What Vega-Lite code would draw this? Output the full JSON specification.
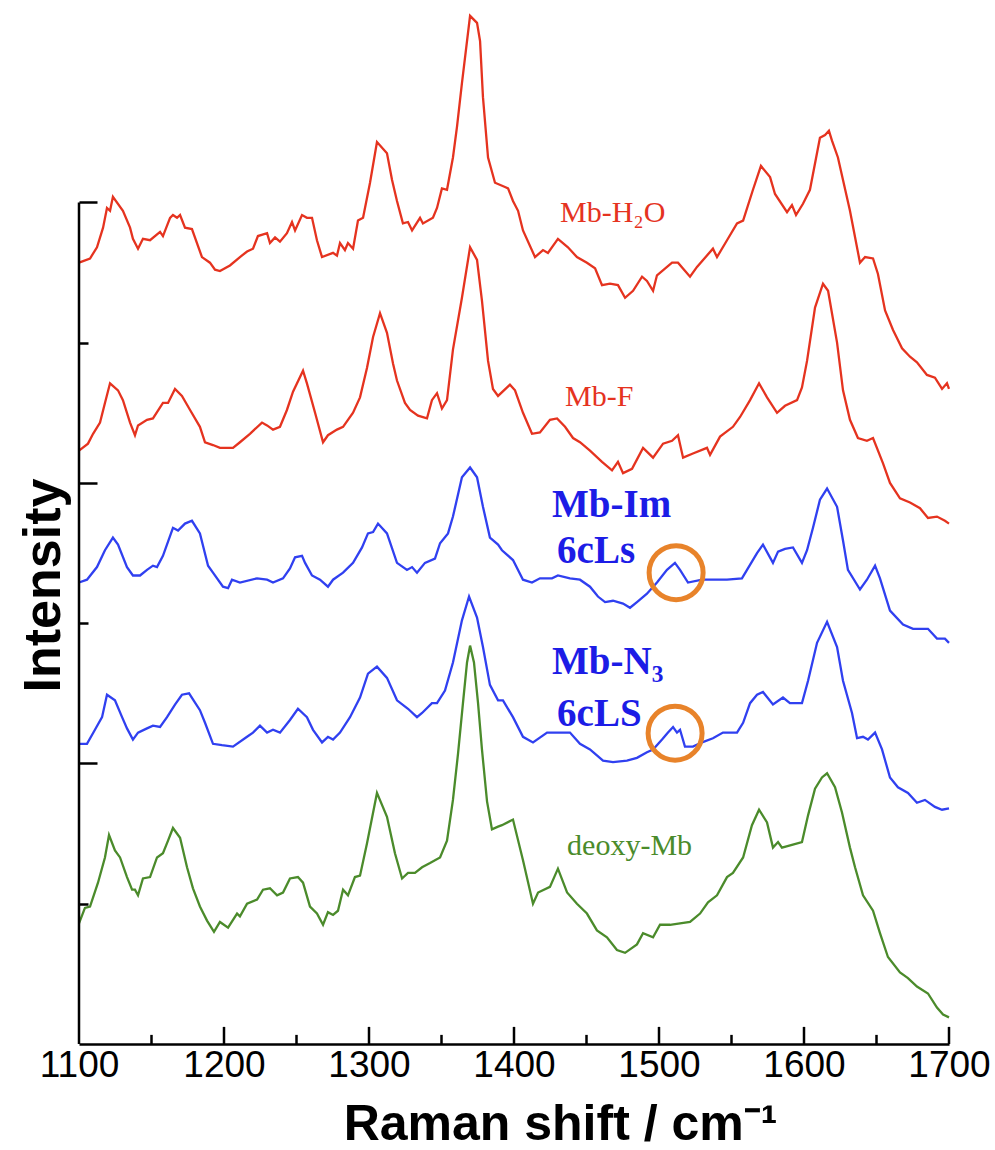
{
"$schema": "https://vega.github.io/schema/vega-lite/v6.json",
"width": 870, "height": 1038,
"autosize": {"type": "none"},
"padding": {"left": 79, "top": 6, "right": 46, "bottom": 106},
"background": "white",
"config": {"view": {"stroke": null}},
"datasets": {
"spectra": [
{"s":"Mb-H2O","wn":1100,"i":5.57},{"s":"Mb-H2O","wn":1107.6,"i":5.60},{"s":"Mb-H2O","wn":1112.4,"i":5.68},{"s":"Mb-H2O","wn":1116.6,"i":5.82},{"s":"Mb-H2O","wn":1119.3,"i":5.96},{"s":"Mb-H2O","wn":1121.4,"i":5.94},{"s":"Mb-H2O","wn":1123.4,"i":6.04},{"s":"Mb-H2O","wn":1130.3,"i":5.94},{"s":"Mb-H2O","wn":1135.2,"i":5.82},{"s":"Mb-H2O","wn":1137.2,"i":5.74},{"s":"Mb-H2O","wn":1140.7,"i":5.67},{"s":"Mb-H2O","wn":1144.1,"i":5.74},{"s":"Mb-H2O","wn":1149,"i":5.73},{"s":"Mb-H2O","wn":1155.9,"i":5.79},{"s":"Mb-H2O","wn":1157.9,"i":5.76},{"s":"Mb-H2O","wn":1162.8,"i":5.89},{"s":"Mb-H2O","wn":1164.8,"i":5.91},{"s":"Mb-H2O","wn":1167.6,"i":5.89},{"s":"Mb-H2O","wn":1169.7,"i":5.91},{"s":"Mb-H2O","wn":1173.1,"i":5.82},{"s":"Mb-H2O","wn":1177.9,"i":5.81},{"s":"Mb-H2O","wn":1184.8,"i":5.61},{"s":"Mb-H2O","wn":1190.3,"i":5.57},{"s":"Mb-H2O","wn":1193.8,"i":5.52},{"s":"Mb-H2O","wn":1197.2,"i":5.51},{"s":"Mb-H2O","wn":1204.1,"i":5.55},{"s":"Mb-H2O","wn":1211,"i":5.61},{"s":"Mb-H2O","wn":1215.9,"i":5.65},{"s":"Mb-H2O","wn":1220,"i":5.67},{"s":"Mb-H2O","wn":1223.4,"i":5.76},{"s":"Mb-H2O","wn":1229.7,"i":5.78},{"s":"Mb-H2O","wn":1231.7,"i":5.71},{"s":"Mb-H2O","wn":1235.2,"i":5.75},{"s":"Mb-H2O","wn":1238.6,"i":5.72},{"s":"Mb-H2O","wn":1243.4,"i":5.78},{"s":"Mb-H2O","wn":1246.9,"i":5.86},{"s":"Mb-H2O","wn":1249,"i":5.80},{"s":"Mb-H2O","wn":1253.8,"i":5.91},{"s":"Mb-H2O","wn":1257.2,"i":5.89},{"s":"Mb-H2O","wn":1260.7,"i":5.89},{"s":"Mb-H2O","wn":1264.1,"i":5.73},{"s":"Mb-H2O","wn":1267.6,"i":5.61},{"s":"Mb-H2O","wn":1275.2,"i":5.64},{"s":"Mb-H2O","wn":1277.9,"i":5.62},{"s":"Mb-H2O","wn":1280,"i":5.71},{"s":"Mb-H2O","wn":1283.4,"i":5.66},{"s":"Mb-H2O","wn":1285.5,"i":5.71},{"s":"Mb-H2O","wn":1289,"i":5.67},{"s":"Mb-H2O","wn":1292.4,"i":5.87},{"s":"Mb-H2O","wn":1295.9,"i":5.89},{"s":"Mb-H2O","wn":1300.7,"i":6.14},{"s":"Mb-H2O","wn":1305.5,"i":6.43},{"s":"Mb-H2O","wn":1312.4,"i":6.35},{"s":"Mb-H2O","wn":1315.9,"i":6.16},{"s":"Mb-H2O","wn":1319.3,"i":6.01},{"s":"Mb-H2O","wn":1323.4,"i":5.85},{"s":"Mb-H2O","wn":1326.9,"i":5.86},{"s":"Mb-H2O","wn":1329.7,"i":5.80},{"s":"Mb-H2O","wn":1335.2,"i":5.89},{"s":"Mb-H2O","wn":1337.2,"i":5.85},{"s":"Mb-H2O","wn":1344.1,"i":5.89},{"s":"Mb-H2O","wn":1346.9,"i":5.96},{"s":"Mb-H2O","wn":1350.3,"i":6.10},{"s":"Mb-H2O","wn":1353.8,"i":6.09},{"s":"Mb-H2O","wn":1357.9,"i":6.32},{"s":"Mb-H2O","wn":1360.7,"i":6.54},{"s":"Mb-H2O","wn":1364.1,"i":6.85},{"s":"Mb-H2O","wn":1369.7,"i":7.33},{"s":"Mb-H2O","wn":1374.5,"i":7.28},{"s":"Mb-H2O","wn":1376.6,"i":7.15},{"s":"Mb-H2O","wn":1378.6,"i":6.75},{"s":"Mb-H2O","wn":1382.1,"i":6.32},{"s":"Mb-H2O","wn":1386.9,"i":6.14},{"s":"Mb-H2O","wn":1393.8,"i":6.11},{"s":"Mb-H2O","wn":1395.9,"i":6.10},{"s":"Mb-H2O","wn":1399.3,"i":6.01},{"s":"Mb-H2O","wn":1402.8,"i":5.94},{"s":"Mb-H2O","wn":1406.2,"i":5.80},{"s":"Mb-H2O","wn":1414.5,"i":5.61},{"s":"Mb-H2O","wn":1420,"i":5.66},{"s":"Mb-H2O","wn":1423.4,"i":5.64},{"s":"Mb-H2O","wn":1430.3,"i":5.74},{"s":"Mb-H2O","wn":1437.2,"i":5.68},{"s":"Mb-H2O","wn":1443.4,"i":5.61},{"s":"Mb-H2O","wn":1450.3,"i":5.57},{"s":"Mb-H2O","wn":1455.9,"i":5.53},{"s":"Mb-H2O","wn":1460.7,"i":5.41},{"s":"Mb-H2O","wn":1466.2,"i":5.42},{"s":"Mb-H2O","wn":1471.7,"i":5.41},{"s":"Mb-H2O","wn":1476.6,"i":5.32},{"s":"Mb-H2O","wn":1482.1,"i":5.37},{"s":"Mb-H2O","wn":1488.3,"i":5.47},{"s":"Mb-H2O","wn":1491.7,"i":5.44},{"s":"Mb-H2O","wn":1495.9,"i":5.37},{"s":"Mb-H2O","wn":1498.6,"i":5.48},{"s":"Mb-H2O","wn":1509,"i":5.57},{"s":"Mb-H2O","wn":1513.1,"i":5.57},{"s":"Mb-H2O","wn":1521.4,"i":5.47},{"s":"Mb-H2O","wn":1526.2,"i":5.54},{"s":"Mb-H2O","wn":1537.2,"i":5.67},{"s":"Mb-H2O","wn":1540,"i":5.61},{"s":"Mb-H2O","wn":1546.9,"i":5.73},{"s":"Mb-H2O","wn":1553.8,"i":5.85},{"s":"Mb-H2O","wn":1558,"i":5.87},{"s":"Mb-H2O","wn":1564.8,"i":6.09},{"s":"Mb-H2O","wn":1570.3,"i":6.26},{"s":"Mb-H2O","wn":1576.6,"i":6.18},{"s":"Mb-H2O","wn":1580,"i":6.06},{"s":"Mb-H2O","wn":1588.3,"i":5.93},{"s":"Mb-H2O","wn":1591.7,"i":5.98},{"s":"Mb-H2O","wn":1594.5,"i":5.91},{"s":"Mb-H2O","wn":1599.3,"i":5.99},{"s":"Mb-H2O","wn":1604.1,"i":6.09},{"s":"Mb-H2O","wn":1611,"i":6.46},{"s":"Mb-H2O","wn":1614.5,"i":6.48},{"s":"Mb-H2O","wn":1617.2,"i":6.51},{"s":"Mb-H2O","wn":1619.3,"i":6.44},{"s":"Mb-H2O","wn":1623.4,"i":6.32},{"s":"Mb-H2O","wn":1631.7,"i":5.94},{"s":"Mb-H2O","wn":1638.6,"i":5.57},{"s":"Mb-H2O","wn":1642.1,"i":5.61},{"s":"Mb-H2O","wn":1647.6,"i":5.60},{"s":"Mb-H2O","wn":1651,"i":5.49},{"s":"Mb-H2O","wn":1655.9,"i":5.23},{"s":"Mb-H2O","wn":1661.4,"i":5.09},{"s":"Mb-H2O","wn":1667.6,"i":4.96},{"s":"Mb-H2O","wn":1673.1,"i":4.90},{"s":"Mb-H2O","wn":1677.9,"i":4.86},{"s":"Mb-H2O","wn":1684.8,"i":4.77},{"s":"Mb-H2O","wn":1690.3,"i":4.75},{"s":"Mb-H2O","wn":1695.2,"i":4.67},{"s":"Mb-H2O","wn":1698.6,"i":4.71},{"s":"Mb-H2O","wn":1700,"i":4.67},
{"s":"Mb-F","wn":1100,"i":4.23},{"s":"Mb-F","wn":1106.2,"i":4.28},{"s":"Mb-F","wn":1109.7,"i":4.35},{"s":"Mb-F","wn":1114.5,"i":4.43},{"s":"Mb-F","wn":1117.9,"i":4.57},{"s":"Mb-F","wn":1121.4,"i":4.71},{"s":"Mb-F","wn":1126.9,"i":4.66},{"s":"Mb-F","wn":1130.3,"i":4.59},{"s":"Mb-F","wn":1135.2,"i":4.43},{"s":"Mb-F","wn":1138.6,"i":4.34},{"s":"Mb-F","wn":1140.7,"i":4.41},{"s":"Mb-F","wn":1146.9,"i":4.45},{"s":"Mb-F","wn":1151,"i":4.46},{"s":"Mb-F","wn":1157.9,"i":4.57},{"s":"Mb-F","wn":1161.4,"i":4.57},{"s":"Mb-F","wn":1166.2,"i":4.67},{"s":"Mb-F","wn":1171,"i":4.62},{"s":"Mb-F","wn":1176.6,"i":4.52},{"s":"Mb-F","wn":1183.4,"i":4.40},{"s":"Mb-F","wn":1186.9,"i":4.29},{"s":"Mb-F","wn":1192.4,"i":4.27},{"s":"Mb-F","wn":1197.2,"i":4.25},{"s":"Mb-F","wn":1206.2,"i":4.25},{"s":"Mb-F","wn":1211,"i":4.29},{"s":"Mb-F","wn":1217.9,"i":4.35},{"s":"Mb-F","wn":1226.2,"i":4.43},{"s":"Mb-F","wn":1229.7,"i":4.41},{"s":"Mb-F","wn":1233.8,"i":4.38},{"s":"Mb-F","wn":1238.6,"i":4.40},{"s":"Mb-F","wn":1243.4,"i":4.52},{"s":"Mb-F","wn":1247.6,"i":4.65},{"s":"Mb-F","wn":1254.5,"i":4.80},{"s":"Mb-F","wn":1257.2,"i":4.71},{"s":"Mb-F","wn":1262.8,"i":4.50},{"s":"Mb-F","wn":1268.3,"i":4.29},{"s":"Mb-F","wn":1271.7,"i":4.34},{"s":"Mb-F","wn":1277.9,"i":4.38},{"s":"Mb-F","wn":1282.1,"i":4.40},{"s":"Mb-F","wn":1289,"i":4.50},{"s":"Mb-F","wn":1293.8,"i":4.61},{"s":"Mb-F","wn":1298.6,"i":4.82},{"s":"Mb-F","wn":1302.8,"i":5.04},{"s":"Mb-F","wn":1307.6,"i":5.21},{"s":"Mb-F","wn":1312.4,"i":5.07},{"s":"Mb-F","wn":1316.6,"i":4.85},{"s":"Mb-F","wn":1319.3,"i":4.73},{"s":"Mb-F","wn":1324.8,"i":4.57},{"s":"Mb-F","wn":1328.3,"i":4.52},{"s":"Mb-F","wn":1333.8,"i":4.48},{"s":"Mb-F","wn":1340,"i":4.46},{"s":"Mb-F","wn":1343.4,"i":4.59},{"s":"Mb-F","wn":1346.9,"i":4.64},{"s":"Mb-F","wn":1350.3,"i":4.53},{"s":"Mb-F","wn":1353.8,"i":4.59},{"s":"Mb-F","wn":1357.9,"i":4.95},{"s":"Mb-F","wn":1364.1,"i":5.32},{"s":"Mb-F","wn":1369.7,"i":5.68},{"s":"Mb-F","wn":1374.5,"i":5.59},{"s":"Mb-F","wn":1377.9,"i":5.30},{"s":"Mb-F","wn":1382.1,"i":4.87},{"s":"Mb-F","wn":1385.5,"i":4.67},{"s":"Mb-F","wn":1389,"i":4.62},{"s":"Mb-F","wn":1397.2,"i":4.70},{"s":"Mb-F","wn":1400.7,"i":4.66},{"s":"Mb-F","wn":1406.2,"i":4.50},{"s":"Mb-F","wn":1412.4,"i":4.35},{"s":"Mb-F","wn":1417.9,"i":4.36},{"s":"Mb-F","wn":1424.8,"i":4.45},{"s":"Mb-F","wn":1429.7,"i":4.46},{"s":"Mb-F","wn":1435.2,"i":4.40},{"s":"Mb-F","wn":1440.7,"i":4.32},{"s":"Mb-F","wn":1445.5,"i":4.29},{"s":"Mb-F","wn":1452.4,"i":4.23},{"s":"Mb-F","wn":1460.7,"i":4.15},{"s":"Mb-F","wn":1467.6,"i":4.09},{"s":"Mb-F","wn":1471.7,"i":4.15},{"s":"Mb-F","wn":1475.2,"i":4.07},{"s":"Mb-F","wn":1481.4,"i":4.10},{"s":"Mb-F","wn":1489,"i":4.25},{"s":"Mb-F","wn":1495.9,"i":4.18},{"s":"Mb-F","wn":1502.8,"i":4.28},{"s":"Mb-F","wn":1509,"i":4.30},{"s":"Mb-F","wn":1513.1,"i":4.34},{"s":"Mb-F","wn":1516.6,"i":4.18},{"s":"Mb-F","wn":1523.4,"i":4.21},{"s":"Mb-F","wn":1533.1,"i":4.25},{"s":"Mb-F","wn":1535.2,"i":4.20},{"s":"Mb-F","wn":1542.1,"i":4.33},{"s":"Mb-F","wn":1551,"i":4.40},{"s":"Mb-F","wn":1555.9,"i":4.47},{"s":"Mb-F","wn":1562.8,"i":4.59},{"s":"Mb-F","wn":1569,"i":4.71},{"s":"Mb-F","wn":1574.5,"i":4.61},{"s":"Mb-F","wn":1581.4,"i":4.50},{"s":"Mb-F","wn":1586.9,"i":4.55},{"s":"Mb-F","wn":1595.2,"i":4.59},{"s":"Mb-F","wn":1598.6,"i":4.68},{"s":"Mb-F","wn":1602.1,"i":4.87},{"s":"Mb-F","wn":1607.6,"i":5.25},{"s":"Mb-F","wn":1613.1,"i":5.42},{"s":"Mb-F","wn":1616.6,"i":5.37},{"s":"Mb-F","wn":1622.8,"i":5.00},{"s":"Mb-F","wn":1626.9,"i":4.66},{"s":"Mb-F","wn":1631.7,"i":4.45},{"s":"Mb-F","wn":1637.2,"i":4.32},{"s":"Mb-F","wn":1643.4,"i":4.30},{"s":"Mb-F","wn":1647.6,"i":4.32},{"s":"Mb-F","wn":1654.5,"i":4.14},{"s":"Mb-F","wn":1659.3,"i":4.00},{"s":"Mb-F","wn":1666.2,"i":3.89},{"s":"Mb-F","wn":1673.1,"i":3.86},{"s":"Mb-F","wn":1680,"i":3.82},{"s":"Mb-F","wn":1685.5,"i":3.75},{"s":"Mb-F","wn":1691.7,"i":3.76},{"s":"Mb-F","wn":1697.2,"i":3.73},{"s":"Mb-F","wn":1700,"i":3.71},
{"s":"Mb-Im","wn":1100,"i":3.29},{"s":"Mb-Im","wn":1105.5,"i":3.31},{"s":"Mb-Im","wn":1112.4,"i":3.40},{"s":"Mb-Im","wn":1117.9,"i":3.52},{"s":"Mb-Im","wn":1123.4,"i":3.61},{"s":"Mb-Im","wn":1126.9,"i":3.56},{"s":"Mb-Im","wn":1133.1,"i":3.40},{"s":"Mb-Im","wn":1137.2,"i":3.34},{"s":"Mb-Im","wn":1142.1,"i":3.34},{"s":"Mb-Im","wn":1146.9,"i":3.38},{"s":"Mb-Im","wn":1151,"i":3.41},{"s":"Mb-Im","wn":1153.8,"i":3.40},{"s":"Mb-Im","wn":1157.9,"i":3.48},{"s":"Mb-Im","wn":1164.8,"i":3.68},{"s":"Mb-Im","wn":1168.3,"i":3.66},{"s":"Mb-Im","wn":1173.1,"i":3.71},{"s":"Mb-Im","wn":1177.9,"i":3.73},{"s":"Mb-Im","wn":1183.4,"i":3.64},{"s":"Mb-Im","wn":1189,"i":3.41},{"s":"Mb-Im","wn":1192.4,"i":3.36},{"s":"Mb-Im","wn":1199.3,"i":3.26},{"s":"Mb-Im","wn":1202.8,"i":3.25},{"s":"Mb-Im","wn":1205.5,"i":3.31},{"s":"Mb-Im","wn":1211,"i":3.29},{"s":"Mb-Im","wn":1222.8,"i":3.32},{"s":"Mb-Im","wn":1229.7,"i":3.31},{"s":"Mb-Im","wn":1233.8,"i":3.29},{"s":"Mb-Im","wn":1240.7,"i":3.32},{"s":"Mb-Im","wn":1245.5,"i":3.39},{"s":"Mb-Im","wn":1249,"i":3.47},{"s":"Mb-Im","wn":1253.8,"i":3.48},{"s":"Mb-Im","wn":1255.9,"i":3.43},{"s":"Mb-Im","wn":1260.7,"i":3.34},{"s":"Mb-Im","wn":1266.2,"i":3.31},{"s":"Mb-Im","wn":1271.7,"i":3.26},{"s":"Mb-Im","wn":1275.2,"i":3.31},{"s":"Mb-Im","wn":1282.1,"i":3.36},{"s":"Mb-Im","wn":1289,"i":3.43},{"s":"Mb-Im","wn":1295.2,"i":3.54},{"s":"Mb-Im","wn":1299.3,"i":3.64},{"s":"Mb-Im","wn":1302.8,"i":3.65},{"s":"Mb-Im","wn":1306.2,"i":3.71},{"s":"Mb-Im","wn":1312.4,"i":3.64},{"s":"Mb-Im","wn":1319.3,"i":3.43},{"s":"Mb-Im","wn":1326.2,"i":3.38},{"s":"Mb-Im","wn":1329.7,"i":3.40},{"s":"Mb-Im","wn":1333.1,"i":3.36},{"s":"Mb-Im","wn":1338.6,"i":3.43},{"s":"Mb-Im","wn":1345.5,"i":3.46},{"s":"Mb-Im","wn":1349,"i":3.57},{"s":"Mb-Im","wn":1354.5,"i":3.64},{"s":"Mb-Im","wn":1357.9,"i":3.76},{"s":"Mb-Im","wn":1364.1,"i":4.04},{"s":"Mb-Im","wn":1369.7,"i":4.11},{"s":"Mb-Im","wn":1374.5,"i":4.04},{"s":"Mb-Im","wn":1378.6,"i":3.83},{"s":"Mb-Im","wn":1383.4,"i":3.61},{"s":"Mb-Im","wn":1389,"i":3.56},{"s":"Mb-Im","wn":1391.7,"i":3.52},{"s":"Mb-Im","wn":1399.3,"i":3.45},{"s":"Mb-Im","wn":1406.2,"i":3.31},{"s":"Mb-Im","wn":1412.4,"i":3.29},{"s":"Mb-Im","wn":1417.9,"i":3.32},{"s":"Mb-Im","wn":1426.2,"i":3.32},{"s":"Mb-Im","wn":1430.3,"i":3.34},{"s":"Mb-Im","wn":1438.6,"i":3.32},{"s":"Mb-Im","wn":1445.5,"i":3.31},{"s":"Mb-Im","wn":1452.4,"i":3.26},{"s":"Mb-Im","wn":1457.9,"i":3.19},{"s":"Mb-Im","wn":1462.8,"i":3.15},{"s":"Mb-Im","wn":1468.3,"i":3.16},{"s":"Mb-Im","wn":1475.2,"i":3.14},{"s":"Mb-Im","wn":1480,"i":3.11},{"s":"Mb-Im","wn":1484.8,"i":3.15},{"s":"Mb-Im","wn":1491.7,"i":3.21},{"s":"Mb-Im","wn":1498.6,"i":3.29},{"s":"Mb-Im","wn":1505.5,"i":3.38},{"s":"Mb-Im","wn":1511,"i":3.43},{"s":"Mb-Im","wn":1514.5,"i":3.38},{"s":"Mb-Im","wn":1520,"i":3.29},{"s":"Mb-Im","wn":1529.7,"i":3.31},{"s":"Mb-Im","wn":1537.2,"i":3.31},{"s":"Mb-Im","wn":1546.9,"i":3.31},{"s":"Mb-Im","wn":1557.2,"i":3.32},{"s":"Mb-Im","wn":1560.7,"i":3.38},{"s":"Mb-Im","wn":1567.6,"i":3.50},{"s":"Mb-Im","wn":1571.7,"i":3.56},{"s":"Mb-Im","wn":1578.6,"i":3.43},{"s":"Mb-Im","wn":1582.1,"i":3.51},{"s":"Mb-Im","wn":1586.9,"i":3.53},{"s":"Mb-Im","wn":1592.4,"i":3.54},{"s":"Mb-Im","wn":1598.6,"i":3.43},{"s":"Mb-Im","wn":1602.1,"i":3.52},{"s":"Mb-Im","wn":1606.2,"i":3.68},{"s":"Mb-Im","wn":1611,"i":3.88},{"s":"Mb-Im","wn":1615.9,"i":3.96},{"s":"Mb-Im","wn":1622.8,"i":3.83},{"s":"Mb-Im","wn":1626.9,"i":3.59},{"s":"Mb-Im","wn":1630.3,"i":3.38},{"s":"Mb-Im","wn":1638.6,"i":3.24},{"s":"Mb-Im","wn":1643.4,"i":3.31},{"s":"Mb-Im","wn":1649,"i":3.41},{"s":"Mb-Im","wn":1652.4,"i":3.32},{"s":"Mb-Im","wn":1659.3,"i":3.09},{"s":"Mb-Im","wn":1668.3,"i":2.99},{"s":"Mb-Im","wn":1675.2,"i":2.96},{"s":"Mb-Im","wn":1685.5,"i":2.96},{"s":"Mb-Im","wn":1691.7,"i":2.89},{"s":"Mb-Im","wn":1697.2,"i":2.89},{"s":"Mb-Im","wn":1700,"i":2.86},
{"s":"Mb-N3","wn":1100,"i":2.14},{"s":"Mb-N3","wn":1105.5,"i":2.14},{"s":"Mb-N3","wn":1111,"i":2.24},{"s":"Mb-N3","wn":1115.9,"i":2.33},{"s":"Mb-N3","wn":1119.3,"i":2.49},{"s":"Mb-N3","wn":1124.8,"i":2.45},{"s":"Mb-N3","wn":1129.7,"i":2.33},{"s":"Mb-N3","wn":1133.1,"i":2.25},{"s":"Mb-N3","wn":1137.2,"i":2.17},{"s":"Mb-N3","wn":1140.7,"i":2.22},{"s":"Mb-N3","wn":1146.9,"i":2.25},{"s":"Mb-N3","wn":1151,"i":2.27},{"s":"Mb-N3","wn":1155.9,"i":2.26},{"s":"Mb-N3","wn":1160.7,"i":2.33},{"s":"Mb-N3","wn":1166.2,"i":2.42},{"s":"Mb-N3","wn":1171,"i":2.49},{"s":"Mb-N3","wn":1175.9,"i":2.50},{"s":"Mb-N3","wn":1183.4,"i":2.38},{"s":"Mb-N3","wn":1186.9,"i":2.29},{"s":"Mb-N3","wn":1192.4,"i":2.14},{"s":"Mb-N3","wn":1198.6,"i":2.13},{"s":"Mb-N3","wn":1206.2,"i":2.12},{"s":"Mb-N3","wn":1215.9,"i":2.19},{"s":"Mb-N3","wn":1220,"i":2.22},{"s":"Mb-N3","wn":1224.8,"i":2.27},{"s":"Mb-N3","wn":1229.7,"i":2.22},{"s":"Mb-N3","wn":1233.8,"i":2.24},{"s":"Mb-N3","wn":1238.6,"i":2.22},{"s":"Mb-N3","wn":1245.5,"i":2.31},{"s":"Mb-N3","wn":1251,"i":2.39},{"s":"Mb-N3","wn":1257.2,"i":2.33},{"s":"Mb-N3","wn":1261.4,"i":2.24},{"s":"Mb-N3","wn":1267.6,"i":2.15},{"s":"Mb-N3","wn":1271.7,"i":2.19},{"s":"Mb-N3","wn":1275.2,"i":2.17},{"s":"Mb-N3","wn":1280,"i":2.22},{"s":"Mb-N3","wn":1286.9,"i":2.33},{"s":"Mb-N3","wn":1293.8,"i":2.47},{"s":"Mb-N3","wn":1299.3,"i":2.64},{"s":"Mb-N3","wn":1305.5,"i":2.69},{"s":"Mb-N3","wn":1312.4,"i":2.61},{"s":"Mb-N3","wn":1319.3,"i":2.45},{"s":"Mb-N3","wn":1326.9,"i":2.39},{"s":"Mb-N3","wn":1333.1,"i":2.33},{"s":"Mb-N3","wn":1336.6,"i":2.36},{"s":"Mb-N3","wn":1343.4,"i":2.43},{"s":"Mb-N3","wn":1346.9,"i":2.43},{"s":"Mb-N3","wn":1352.4,"i":2.52},{"s":"Mb-N3","wn":1357.9,"i":2.72},{"s":"Mb-N3","wn":1364.1,"i":3.02},{"s":"Mb-N3","wn":1369,"i":3.19},{"s":"Mb-N3","wn":1374.5,"i":3.04},{"s":"Mb-N3","wn":1378.6,"i":2.83},{"s":"Mb-N3","wn":1383.4,"i":2.56},{"s":"Mb-N3","wn":1389,"i":2.45},{"s":"Mb-N3","wn":1392.4,"i":2.45},{"s":"Mb-N3","wn":1399.3,"i":2.33},{"s":"Mb-N3","wn":1406.2,"i":2.19},{"s":"Mb-N3","wn":1413.1,"i":2.15},{"s":"Mb-N3","wn":1422.8,"i":2.22},{"s":"Mb-N3","wn":1426.2,"i":2.22},{"s":"Mb-N3","wn":1431.7,"i":2.22},{"s":"Mb-N3","wn":1438.6,"i":2.22},{"s":"Mb-N3","wn":1445.5,"i":2.14},{"s":"Mb-N3","wn":1452.4,"i":2.10},{"s":"Mb-N3","wn":1461.4,"i":2.02},{"s":"Mb-N3","wn":1468.3,"i":2.01},{"s":"Mb-N3","wn":1477.9,"i":2.02},{"s":"Mb-N3","wn":1484.8,"i":2.04},{"s":"Mb-N3","wn":1491.7,"i":2.08},{"s":"Mb-N3","wn":1495.9,"i":2.10},{"s":"Mb-N3","wn":1502.1,"i":2.17},{"s":"Mb-N3","wn":1506.2,"i":2.22},{"s":"Mb-N3","wn":1509.7,"i":2.26},{"s":"Mb-N3","wn":1512.4,"i":2.22},{"s":"Mb-N3","wn":1514.5,"i":2.24},{"s":"Mb-N3","wn":1517.9,"i":2.12},{"s":"Mb-N3","wn":1523.4,"i":2.12},{"s":"Mb-N3","wn":1529.7,"i":2.15},{"s":"Mb-N3","wn":1537.2,"i":2.18},{"s":"Mb-N3","wn":1544.1,"i":2.22},{"s":"Mb-N3","wn":1553.8,"i":2.22},{"s":"Mb-N3","wn":1558,"i":2.29},{"s":"Mb-N3","wn":1562.8,"i":2.43},{"s":"Mb-N3","wn":1567.6,"i":2.49},{"s":"Mb-N3","wn":1571.7,"i":2.51},{"s":"Mb-N3","wn":1578.6,"i":2.42},{"s":"Mb-N3","wn":1585.5,"i":2.47},{"s":"Mb-N3","wn":1590.3,"i":2.43},{"s":"Mb-N3","wn":1598.6,"i":2.43},{"s":"Mb-N3","wn":1602.8,"i":2.59},{"s":"Mb-N3","wn":1609,"i":2.86},{"s":"Mb-N3","wn":1615.9,"i":3.01},{"s":"Mb-N3","wn":1622.8,"i":2.83},{"s":"Mb-N3","wn":1626.9,"i":2.59},{"s":"Mb-N3","wn":1633.1,"i":2.36},{"s":"Mb-N3","wn":1636.6,"i":2.18},{"s":"Mb-N3","wn":1640.7,"i":2.19},{"s":"Mb-N3","wn":1644.1,"i":2.17},{"s":"Mb-N3","wn":1649,"i":2.22},{"s":"Mb-N3","wn":1653.8,"i":2.10},{"s":"Mb-N3","wn":1659.3,"i":1.90},{"s":"Mb-N3","wn":1664.8,"i":1.83},{"s":"Mb-N3","wn":1671.7,"i":1.79},{"s":"Mb-N3","wn":1677.9,"i":1.72},{"s":"Mb-N3","wn":1683.4,"i":1.74},{"s":"Mb-N3","wn":1690.3,"i":1.69},{"s":"Mb-N3","wn":1695.2,"i":1.67},{"s":"Mb-N3","wn":1700,"i":1.68},
{"s":"deoxy-Mb","wn":1100,"i":0.86},{"s":"deoxy-Mb","wn":1104.1,"i":0.97},{"s":"deoxy-Mb","wn":1107.6,"i":0.98},{"s":"deoxy-Mb","wn":1113.1,"i":1.15},{"s":"deoxy-Mb","wn":1117.9,"i":1.33},{"s":"deoxy-Mb","wn":1120.7,"i":1.49},{"s":"deoxy-Mb","wn":1124.8,"i":1.38},{"s":"deoxy-Mb","wn":1128.3,"i":1.33},{"s":"deoxy-Mb","wn":1133.1,"i":1.19},{"s":"deoxy-Mb","wn":1136.6,"i":1.10},{"s":"deoxy-Mb","wn":1138.6,"i":1.10},{"s":"deoxy-Mb","wn":1140.7,"i":1.06},{"s":"deoxy-Mb","wn":1144.1,"i":1.18},{"s":"deoxy-Mb","wn":1149,"i":1.19},{"s":"deoxy-Mb","wn":1153.8,"i":1.33},{"s":"deoxy-Mb","wn":1157.9,"i":1.36},{"s":"deoxy-Mb","wn":1161.4,"i":1.45},{"s":"deoxy-Mb","wn":1164.8,"i":1.54},{"s":"deoxy-Mb","wn":1169.7,"i":1.47},{"s":"deoxy-Mb","wn":1174.5,"i":1.26},{"s":"deoxy-Mb","wn":1178.6,"i":1.11},{"s":"deoxy-Mb","wn":1183.4,"i":0.98},{"s":"deoxy-Mb","wn":1188.3,"i":0.88},{"s":"deoxy-Mb","wn":1193.1,"i":0.80},{"s":"deoxy-Mb","wn":1197.2,"i":0.87},{"s":"deoxy-Mb","wn":1202.8,"i":0.83},{"s":"deoxy-Mb","wn":1209,"i":0.93},{"s":"deoxy-Mb","wn":1211,"i":0.91},{"s":"deoxy-Mb","wn":1215.9,"i":1.00},{"s":"deoxy-Mb","wn":1222.8,"i":1.03},{"s":"deoxy-Mb","wn":1226.9,"i":1.10},{"s":"deoxy-Mb","wn":1231.7,"i":1.11},{"s":"deoxy-Mb","wn":1236.6,"i":1.06},{"s":"deoxy-Mb","wn":1240.7,"i":1.08},{"s":"deoxy-Mb","wn":1245.5,"i":1.18},{"s":"deoxy-Mb","wn":1251,"i":1.19},{"s":"deoxy-Mb","wn":1254.5,"i":1.15},{"s":"deoxy-Mb","wn":1259.3,"i":0.98},{"s":"deoxy-Mb","wn":1264.1,"i":0.93},{"s":"deoxy-Mb","wn":1268.3,"i":0.85},{"s":"deoxy-Mb","wn":1271.7,"i":0.94},{"s":"deoxy-Mb","wn":1275.2,"i":0.92},{"s":"deoxy-Mb","wn":1278.6,"i":0.95},{"s":"deoxy-Mb","wn":1282.1,"i":1.10},{"s":"deoxy-Mb","wn":1285.5,"i":1.06},{"s":"deoxy-Mb","wn":1290.3,"i":1.19},{"s":"deoxy-Mb","wn":1293.8,"i":1.20},{"s":"deoxy-Mb","wn":1298.6,"i":1.43},{"s":"deoxy-Mb","wn":1305.5,"i":1.79},{"s":"deoxy-Mb","wn":1312.4,"i":1.62},{"s":"deoxy-Mb","wn":1317.9,"i":1.36},{"s":"deoxy-Mb","wn":1322.8,"i":1.18},{"s":"deoxy-Mb","wn":1326.9,"i":1.22},{"s":"deoxy-Mb","wn":1331.7,"i":1.22},{"s":"deoxy-Mb","wn":1336.6,"i":1.26},{"s":"deoxy-Mb","wn":1342.1,"i":1.29},{"s":"deoxy-Mb","wn":1349,"i":1.33},{"s":"deoxy-Mb","wn":1353.8,"i":1.45},{"s":"deoxy-Mb","wn":1357.9,"i":1.74},{"s":"deoxy-Mb","wn":1361.4,"i":2.07},{"s":"deoxy-Mb","wn":1364.8,"i":2.43},{"s":"deoxy-Mb","wn":1367.6,"i":2.72},{"s":"deoxy-Mb","wn":1369.7,"i":2.84},{"s":"deoxy-Mb","wn":1372.4,"i":2.72},{"s":"deoxy-Mb","wn":1375.2,"i":2.43},{"s":"deoxy-Mb","wn":1377.9,"i":2.10},{"s":"deoxy-Mb","wn":1381.4,"i":1.73},{"s":"deoxy-Mb","wn":1384.8,"i":1.53},{"s":"deoxy-Mb","wn":1389,"i":1.55},{"s":"deoxy-Mb","wn":1391.7,"i":1.56},{"s":"deoxy-Mb","wn":1399.3,"i":1.60},{"s":"deoxy-Mb","wn":1406.2,"i":1.31},{"s":"deoxy-Mb","wn":1413.1,"i":1.00},{"s":"deoxy-Mb","wn":1416.6,"i":1.08},{"s":"deoxy-Mb","wn":1424.8,"i":1.12},{"s":"deoxy-Mb","wn":1430.3,"i":1.25},{"s":"deoxy-Mb","wn":1436.6,"i":1.08},{"s":"deoxy-Mb","wn":1443.4,"i":1.00},{"s":"deoxy-Mb","wn":1450.3,"i":0.93},{"s":"deoxy-Mb","wn":1457.2,"i":0.81},{"s":"deoxy-Mb","wn":1464.1,"i":0.76},{"s":"deoxy-Mb","wn":1471,"i":0.67},{"s":"deoxy-Mb","wn":1476.6,"i":0.65},{"s":"deoxy-Mb","wn":1484.8,"i":0.71},{"s":"deoxy-Mb","wn":1489,"i":0.79},{"s":"deoxy-Mb","wn":1495.9,"i":0.76},{"s":"deoxy-Mb","wn":1500.7,"i":0.85},{"s":"deoxy-Mb","wn":1507.6,"i":0.85},{"s":"deoxy-Mb","wn":1514.5,"i":0.86},{"s":"deoxy-Mb","wn":1521.4,"i":0.87},{"s":"deoxy-Mb","wn":1528.3,"i":0.93},{"s":"deoxy-Mb","wn":1533.8,"i":1.01},{"s":"deoxy-Mb","wn":1540,"i":1.06},{"s":"deoxy-Mb","wn":1546.9,"i":1.19},{"s":"deoxy-Mb","wn":1551,"i":1.22},{"s":"deoxy-Mb","wn":1558,"i":1.33},{"s":"deoxy-Mb","wn":1564.1,"i":1.56},{"s":"deoxy-Mb","wn":1569,"i":1.67},{"s":"deoxy-Mb","wn":1574.5,"i":1.58},{"s":"deoxy-Mb","wn":1578.6,"i":1.40},{"s":"deoxy-Mb","wn":1582.1,"i":1.44},{"s":"deoxy-Mb","wn":1584.8,"i":1.40},{"s":"deoxy-Mb","wn":1591.7,"i":1.42},{"s":"deoxy-Mb","wn":1598.6,"i":1.44},{"s":"deoxy-Mb","wn":1602.8,"i":1.63},{"s":"deoxy-Mb","wn":1607.6,"i":1.82},{"s":"deoxy-Mb","wn":1612.4,"i":1.90},{"s":"deoxy-Mb","wn":1615.9,"i":1.93},{"s":"deoxy-Mb","wn":1621.4,"i":1.83},{"s":"deoxy-Mb","wn":1626.2,"i":1.65},{"s":"deoxy-Mb","wn":1631.7,"i":1.40},{"s":"deoxy-Mb","wn":1635.2,"i":1.26},{"s":"deoxy-Mb","wn":1640.7,"i":1.06},{"s":"deoxy-Mb","wn":1647.6,"i":0.95},{"s":"deoxy-Mb","wn":1652.4,"i":0.79},{"s":"deoxy-Mb","wn":1657.9,"i":0.62},{"s":"deoxy-Mb","wn":1666.2,"i":0.51},{"s":"deoxy-Mb","wn":1671.7,"i":0.47},{"s":"deoxy-Mb","wn":1677.9,"i":0.41},{"s":"deoxy-Mb","wn":1685.5,"i":0.36},{"s":"deoxy-Mb","wn":1691.7,"i":0.26},{"s":"deoxy-Mb","wn":1695.9,"i":0.21},{"s":"deoxy-Mb","wn":1700,"i":0.19}
],
"yaxisline": [{"wn": 1100, "i": 0, "i2": 6}],
"majorticks": [{"wn": 1200}, {"wn": 1300}, {"wn": 1400}, {"wn": 1500}, {"wn": 1600}, {"wn": 1700}],
"minorticks": [{"wn": 1150}, {"wn": 1250}, {"wn": 1350}, {"wn": 1450}, {"wn": 1550}, {"wn": 1650}],
"circles": [{"wn": 1511.8, "i": 3.36}, {"wn": 1511.1, "i": 2.216}],
"labels": [
{"s": "Mb-H2O", "t": "Mb-H₂O", "wn": 1431.7, "i": 5.86},
{"s": "Mb-F", "t": "Mb-F", "wn": 1435.2, "i": 4.55},
{"s": "deoxy-Mb", "t": "deoxy-Mb", "wn": 1436.6, "i": 1.35}
],
"boldlabels": [
{"t": "Mb-Im", "wn": 1426.2, "i": 3.755},
{"t": "6cLs", "wn": 1429.7, "i": 3.43},
{"t": "Mb-N₃", "wn": 1426.2, "i": 2.64},
{"t": "6cLS", "wn": 1429.7, "i": 2.27}
]
},
"layer": [
{
"data": {"name": "spectra"},
"mark": {"type": "line", "strokeWidth": 2.3},
"encoding": {
"x": {"field": "wn", "type": "quantitative",
 "scale": {"domain": [1100, 1700], "nice": false, "zero": false},
 "axis": {
  "values": [1100,1200,1300,1400,1500,1600,1700],
  "format": "d",
  "labelFont": "Liberation Sans", "labelFontSize": 37, "labelColor": "black",
  "labelPadding": 3, "labelFlush": false, "labelOverlap": false, "labelBaseline": "top",
  "ticks": false,
  "domainColor": "black", "domainWidth": 2.5, "grid": false,
  "title": "Raman shift / cm⁻¹", "titleFont": "Liberation Sans", "titleFontSize": 50,
  "titleFontWeight": "bold", "titleColor": "black",
  "titleX": 481, "titleY": 95, "titleBaseline": "alphabetic", "titleAlign": "center"
 }},
"y": {"field": "i", "type": "quantitative",
 "scale": {"domain": [0, 7.4], "nice": false, "zero": false},
 "axis": {
  "values": [1,2,3,4,5,6], "labels": false, "domain": false, "grid": false,
  "tickSize": {"condition": {"test": "datum.value % 2 === 0", "value": -18}, "value": -9},
  "tickColor": "black", "tickWidth": 2.5,
  "title": "Intensity", "titleFont": "Liberation Sans", "titleFontSize": 52,
  "titleFontWeight": "bold", "titleColor": "black",
  "titleX": -20, "titleY": 579, "titleBaseline": "alphabetic", "titleAlign": "center", "titleAngle": 270
 }},
"color": {"field": "s", "type": "nominal",
 "scale": {"domain": ["Mb-H2O","Mb-F","Mb-Im","Mb-N3","deoxy-Mb"],
  "range": ["#e5331f","#e5331f","#3040f0","#3040f0","#4b8b2b"]},
 "legend": null}
}
},
{
"data": {"name": "yaxisline"},
"mark": {"type": "rule", "color": "black", "strokeWidth": 2.5},
"encoding": {
"x": {"field": "wn", "type": "quantitative"},
"y": {"field": "i", "type": "quantitative"},
"y2": {"field": "i2"}
}
},
{
"data": {"name": "majorticks"},
"mark": {"type": "rule", "color": "black", "strokeWidth": 2.5},
"encoding": {
"x": {"field": "wn", "type": "quantitative"},
"y": {"datum": 0},
"y2": {"datum": 0.122}
}
},
{
"data": {"name": "minorticks"},
"mark": {"type": "rule", "color": "black", "strokeWidth": 2.5},
"encoding": {
"x": {"field": "wn", "type": "quantitative"},
"y": {"datum": 0},
"y2": {"datum": 0.065}
}
},
{
"data": {"name": "circles"},
"mark": {"type": "point", "shape": "circle", "filled": false, "size": 2916, "strokeWidth": 5, "color": "#e8832a", "opacity": 1},
"encoding": {
"x": {"field": "wn", "type": "quantitative"},
"y": {"field": "i", "type": "quantitative"}
}
},
{
"data": {"name": "labels"},
"mark": {"type": "text", "font": "Liberation Serif", "fontSize": 30, "align": "left", "baseline": "alphabetic"},
"encoding": {
"x": {"field": "wn", "type": "quantitative"},
"y": {"field": "i", "type": "quantitative"},
"text": {"field": "t"},
"color": {"field": "s", "type": "nominal"}
}
},
{
"data": {"name": "boldlabels"},
"mark": {"type": "text", "font": "Liberation Serif", "fontSize": 39, "fontWeight": "bold", "align": "left", "baseline": "alphabetic", "color": "#1c1ce6"},
"encoding": {
"x": {"field": "wn", "type": "quantitative"},
"y": {"field": "i", "type": "quantitative"},
"text": {"field": "t"}
}
}
]
}
